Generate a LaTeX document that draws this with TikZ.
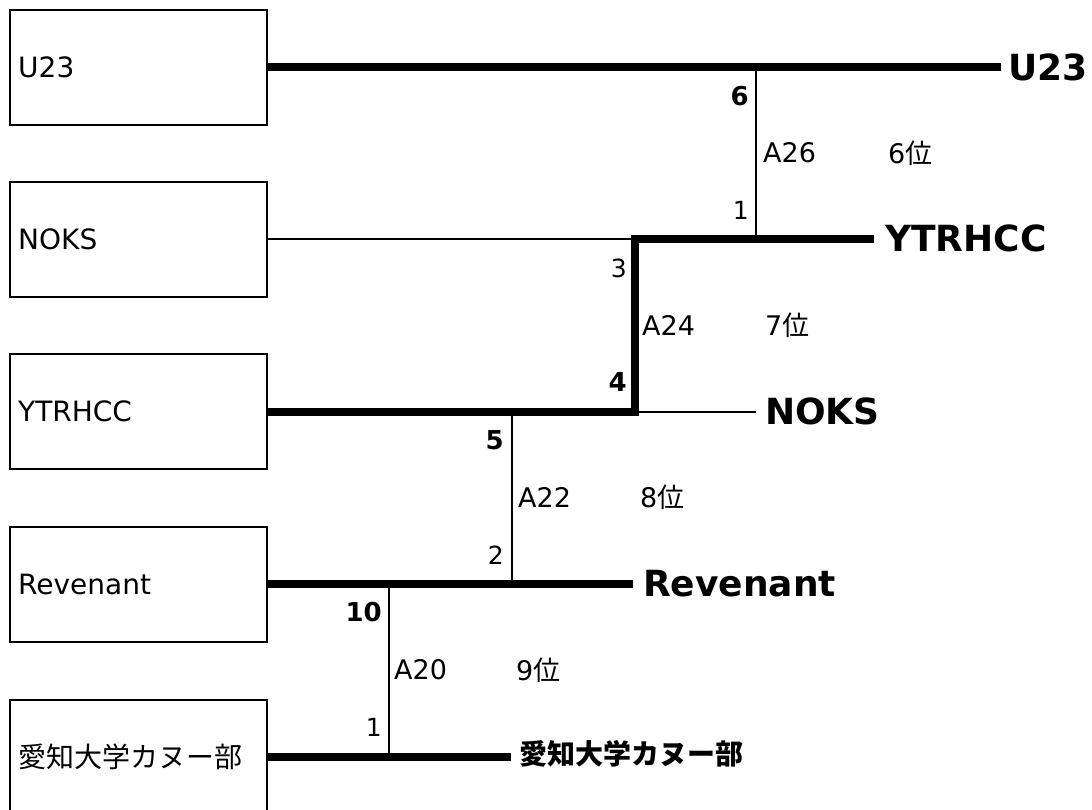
\documentclass[tikz,border=0pt]{standalone}
\usepackage{fontspec}
\setmainfont{DejaVu Sans}
\newfontfamily\jp{Noto Sans CJK JP}
\tikzset{
  team/.style={draw, line width=2pt, minimum width=257pt, minimum height=115pt, inner sep=0pt},
  tlabel/.style={anchor=west, inner sep=0pt, font=\fontsize{28}{30}\selectfont},
  thick line/.style={line width=8pt},
  thin line/.style={line width=2pt},
  winner/.style={anchor=west, inner xsep=0pt, inner ysep=0pt, font=\fontsize{36}{38}\selectfont\bfseries},
  winnerjp/.style={anchor=west, inner xsep=0pt, inner ysep=0pt, font=\fontsize{28}{30}\selectfont\jp\bfseries},
  score/.style={anchor=east, inner sep=0pt, font=\fontsize{25}{27}\selectfont},
  bscore/.style={score, font=\fontsize{26}{28}\selectfont\bfseries},
  match/.style={anchor=west, inner sep=0pt, font=\fontsize{27}{29}\selectfont},
}
\begin{document}
\begin{tikzpicture}[x=1pt,y=-1pt]
\useasboundingbox (0,0) rectangle (1092,809);
% team boxes
\node[team] (b1) at (138.5,67) {};
\node[team] (b2) at (138.5,239) {};
\node[team] (b3) at (138.5,411.5) {};
\node[team] (b4) at (138.5,584) {};
\node[team] (b5) at (138.5,757) {};
\node[tlabel] (t1) at (18,67) {U23};
\node[tlabel] (t2) at (18,239) {NOKS};
\node[tlabel] (t3) at (18,411.5) {YTRHCC};
\node[tlabel] (t4) at (18,584) {Revenant};
\node[tlabel] (t5) at (18,757) {\jp 愛知大学カヌー部};
% result labels
\node[winner] (r1) at (1008,67) {U23};
\node[winner] (r2) at (885,238) {YTRHCC};
\node[winner] (r3) at (765,411) {NOKS};
\node[winner] (r4) at (643,584) {Revenant};
\node[winnerjp] (r5) at (519,754) {愛知大学カヌー部};
% junctions
\coordinate (j1) at (756,67);
\coordinate (j1b) at (756,239);
\coordinate (k1) at (635,239);
\coordinate (k2) at (635,411.5);
\coordinate (m1) at (511.5,411.5);
\coordinate (m2) at (511.5,584);
\coordinate (n1) at (389,584);
\coordinate (n2) at (389,757);
\coordinate (e1) at (1001,67);
\coordinate (e2) at (874,239);
\coordinate (e3) at (756,411.5);
\coordinate (e4) at (633,584);
\coordinate (e5) at (511,757);
% connectors
\draw[thick line] (b1.east) -- (e1);
\draw[thin line] (j1) -- (j1b);
\draw[thin line] (b2.east) -- (k1);
\draw[thick line] (k1) -- (e2);
\draw[thick line] ([yshift=4pt]k1) -- ([yshift=-4pt]k2);
\draw[thick line] (b3.east) -- (k2);
\draw[thin line] (k2) -- (e3);
\draw[thin line] (m1) -- (m2);
\draw[thick line] (b4.east) -- (e4);
\draw[thin line] (n1) -- (n2);
\draw[thick line] (b5.east) -- (e5);
% match labels
\node[bscore] (s1a) at (749,96) {6};
\node[score] (s1b) at (749,210) {1};
\node[match] (a1) at (763,153) {A26};
\node[match] (p1) at (888,153) {6{\jp 位}};
\node[score] (s2a) at (627,268) {3};
\node[bscore] (s2b) at (627,382) {4};
\node[match] (a2) at (642,325) {A24};
\node[match] (p2) at (765,325) {7{\jp 位}};
\node[bscore] (s3a) at (504,440) {5};
\node[score] (s3b) at (504,555) {2};
\node[match] (a3) at (518,497) {A22};
\node[match] (p3) at (640,497) {8{\jp 位}};
\node[bscore] (s4a) at (382,612) {10};
\node[score] (s4b) at (382,727) {1};
\node[match] (a4) at (394,670) {A20};
\node[match] (p4) at (516,670) {9{\jp 位}};
\end{tikzpicture}
\end{document}
